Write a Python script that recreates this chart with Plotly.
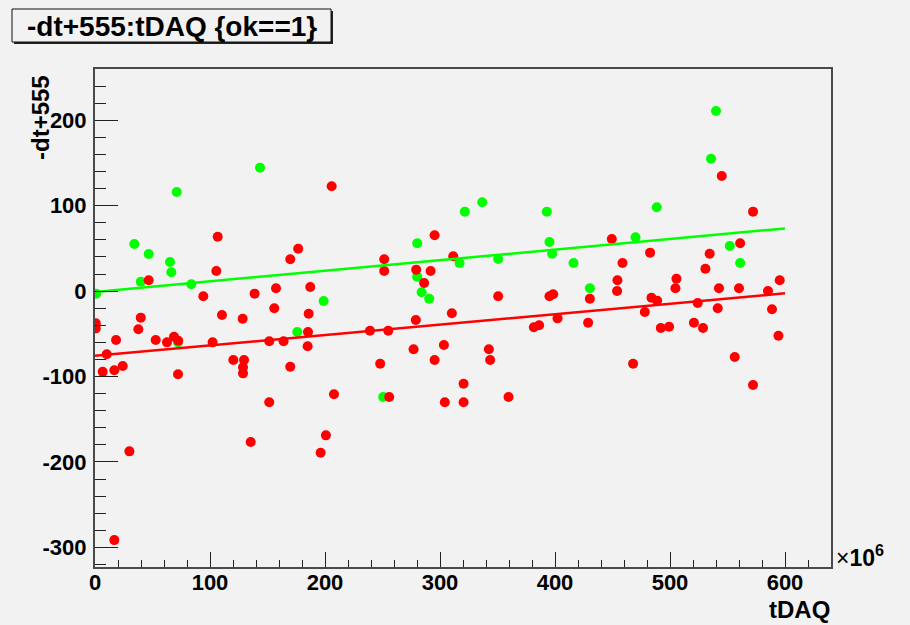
import plotly.graph_objects as go

# ---- data (tDAQ in units of 1e6) ----
green_x = [1, 34.2, 46.7, 71.1, 65.2, 66.4, 39.8, 83.7, 143.5, 198.8, 175.9, 72.2,
           280.2, 321.6, 336.7, 392.9, 395.2, 397.5, 416.1, 317.0, 350.6, 280.2, 284.0,
           290.6, 430.3, 250.6, 540.0, 535.7, 488.5, 470.0, 552.0, 561.0]
green_y = [-3, 55.2, 43.4, 116, 34.1, 22, 11, 8, 144.5, -11.6, -47.9, -60,
           56, 93, 104, 93, 57.5, 43.8, 32.9, 32.9, 37.6, 16.9, -1.4,
           -8.9, 3.3, -124, 210.9, 155, 98.1, 63, 52.8, 32.9]

red_x = [205.8, 106.7, 176.7, 169.8, 105.5, 46.7, 94.2, 138.8, 157.4, 187.2,
         155.9, 185.8, 110.4, 128.4, 39.8, 0.7, 0.7, 37.7, 18.3, 10.2,
         6.7, 16.8, 24.1, 29.9, 16.8, 52.8, 62.6, 68.7, 72.4, 72.2,
         102.3, 120.3, 129.6, 128.7, 128.7, 151.5, 164.0, 185.2, 184.9, 169.8,
         151.5, 135.4, 200.8, 196.2, 207.8, 239.1, 255.0, 279.0, 310.3, 402.2,
         381.6, 386.2, 428.8, 277.0, 303.4, 295.3, 248.0, 342.5, 343.6, 320.5,
         304.2, 320.5, 359.6, 255.8, 295.3, 251.5, 251.5, 279.3, 291.8, 311.5,
         286.2, 350.6, 395.2, 398.4, 430.3, 545.0, 572.2, 449.4, 561.0, 482.7,
         534.5, 458.7, 530.8, 454.3, 454.0, 505.6, 504.7, 542.6, 560.0, 595.4,
         585.2, 483.9, 488.8, 524.1, 478.1, 541.5, 588.7, 492.0, 499.2, 520.8,
         528.7, 594.3, 467.9, 556.3, 572.2]
red_y = [122.7, 63.7, 49.6, 37.2, 23.5, 12.6, -6.1, -3, 3.3, 4.8,
         -20.1, -26.5, -28, -32.3, -31.1, -37.7, -43.6, -44.7, -57.3, -74,
         -94.4, -92.7, -87.7, -187.6, -291.5, -57.3, -60, -53.4, -58.1, -97.4,
         -60, -80.7, -80.7, -89.2, -96.3, -58.8, -58.8, -47.9, -64.6, -88.5,
         -130.2, -176.7, -168.9, -189.2, -120.8, -46.4, -46.4, -33.8, -26, -31.9,
         -42.4, -40, -37, -68.1, -63.1, -80.7, -85, -68.1, -80.7, -108.4,
         -130.2, -130.2, -124, -124, 65.3, 37.2, 23.5, 25.1, 23.5, 40.7,
         9.5, -6.1, -6.1, -3.7, -8.9, 134.8, 93, 61, 56, 45,
         43.8, 32.9, 26.2, 12.6, 0.1, 14.5, 3.3, 3.3, 3.3, 12.6,
         0.1, -7.7, -11.2, -13.9, -24.5, -20.1, -21.3, -43.2, -41.7, -37,
         -43.2, -52.2, -85, -77.2, -110]

# linear fits (p0 + p1*x), drawn over the fit range
green_fit = [-1.0, 0.124]
red_fit = [-75.8, 0.122]
fit_range = [0, 600]

x_ticks = [0, 100, 200, 300, 400, 500, 600]
y_ticks = [-300, -200, -100, 0, 100, 200]
y_ticklabels = ["-300", "-200", "-100", "0", "100", "200"]

BG = "#f2f2f2"
FONT = "Liberation Sans, Arial, Helvetica, sans-serif"

fig = go.Figure()
fig.add_trace(go.Scatter(x=green_x, y=green_y, mode="markers",
                         marker=dict(color="#00ff00", size=10, line=dict(width=0)),
                         showlegend=False))
fig.add_trace(go.Scatter(x=red_x, y=red_y, mode="markers",
                         marker=dict(color="#ff0000", size=10, line=dict(width=0)),
                         showlegend=False))
fig.add_trace(go.Scatter(x=fit_range, y=[green_fit[0] + green_fit[1] * v for v in fit_range],
                         mode="lines", line=dict(color="#00ff00", width=2.5), showlegend=False))
fig.add_trace(go.Scatter(x=fit_range, y=[red_fit[0] + red_fit[1] * v for v in fit_range],
                         mode="lines", line=dict(color="#ff0000", width=2.5), showlegend=False))

L, R, T, B = 95, 79, 69, 58
W, H = 910, 625
PW, PH = W - L - R, H - T - B


def px(x):
    return (x - L) / PW


def py(y):
    return (H - B - y) / PH


fig.update_layout(
    width=W, height=H, autosize=False,
    margin=dict(l=L, r=R, t=T, b=B),
    paper_bgcolor=BG, plot_bgcolor=BG,
    font=dict(family=FONT, color="black"),
    xaxis=dict(range=[0, 640], tickvals=x_ticks, ticktext=[str(v) for v in x_ticks],
               ticks="inside", ticklen=15, tickwidth=1,
               tickcolor="#222", showline=True, linecolor="#4a4a4a", linewidth=2, mirror=True,
               showgrid=False, zeroline=False,
               tickfont=dict(family=FONT, size=22, weight="bold", color="black"),
               ticklabelstandoff=-5,
               minor=dict(ticks="inside", ticklen=7, dtick=20, tick0=0, tickcolor="#222",
                          tickwidth=1, showgrid=False)),
    yaxis=dict(range=[-323, 260], tickvals=y_ticks, ticktext=y_ticklabels,
               ticks="inside", ticklen=23, tickwidth=1,
               tickcolor="#222", showline=True, linecolor="#4a4a4a", linewidth=2, mirror=True,
               showgrid=False, zeroline=False,
               tickfont=dict(family=FONT, size=22, weight="bold", color="black"),
               ticklabelstandoff=2,
               minor=dict(ticks="inside", ticklen=11, dtick=20, tick0=0, tickcolor="#222",
                          tickwidth=1, showgrid=False)),
    shapes=[
        dict(type="rect", xref="paper", yref="paper", x0=px(14), x1=px(333), y0=py(44), y1=py(11),
             fillcolor="#222", line=dict(width=0), layer="above"),
        dict(type="rect", xref="paper", yref="paper", x0=px(12), x1=px(331), y0=py(42), y1=py(9),
             fillcolor=BG, line=dict(color="#111", width=1), layer="above"),
    ],
    annotations=[
        dict(text="<b>-dt+555:tDAQ {ok==1}</b>", xref="paper", yref="paper",
             x=px(171.5), y=py(26), xanchor="center", yanchor="middle", showarrow=False,
             font=dict(family=FONT, size=28, color="black")),
        dict(text="<b>tDAQ</b>", xref="paper", yref="paper", x=px(832), y=py(609),
             xanchor="right", yanchor="middle", showarrow=False,
             font=dict(family=FONT, size=24, color="black")),
        dict(text="<b>-dt+555</b>", xref="paper", yref="paper", x=px(40), y=py(118),
             xanchor="center", yanchor="middle", textangle=-90, showarrow=False,
             font=dict(family=FONT, size=24, color="black")),
        dict(text="×<b>10<sup>6</sup></b>", xref="paper", yref="paper", x=px(834), y=py(556),
             xanchor="left", yanchor="middle", showarrow=False,
             font=dict(family=FONT, size=23, color="black")),
    ],
)

fig.write_html("out.html")
